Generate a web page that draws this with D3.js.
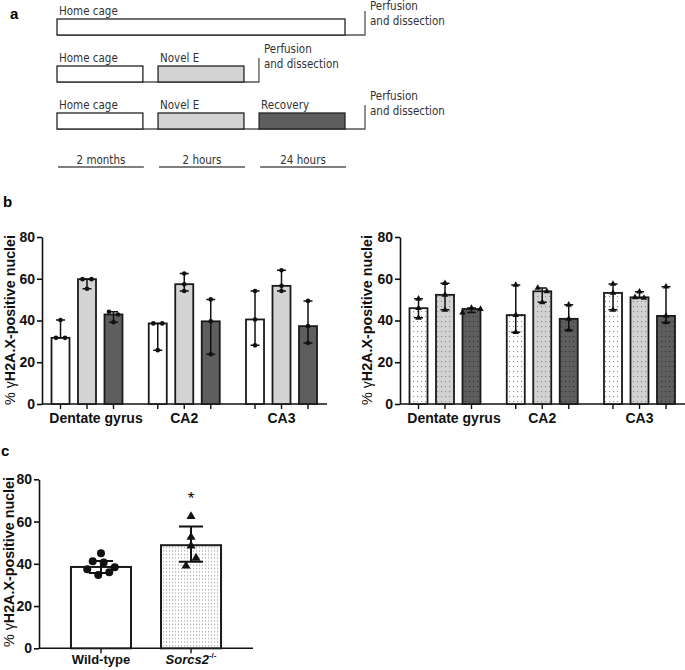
<!DOCTYPE html>
<html><head><meta charset="utf-8">
<script src="https://cdn.jsdelivr.net/npm/d3@7"></script>
<style>body{margin:0;background:#fff} svg{display:block}</style>
</head><body>
<svg id="chart" width="685" height="670"></svg>
<script>
// ---------------- DATA ----------------
const stageNames = ["Home cage", "Novel E", "Recovery"];
const stageDurations = ["2 months", "2 hours", "24 hours"];
const protocols = [["Home cage"], ["Home cage", "Novel E"], ["Home cage", "Novel E", "Recovery"]];
const endLabel = ["Perfusion", "and dissection"];

const regions = ["Dentate gyrus", "CA2", "CA3"];
const conditions = ["Home cage", "Novel E", "Recovery"];
const yTicks = [0, 20, 40, 60, 80];

// panel b, left (wild-type): medians and individual animals
const leftMedians = [[31.7, 59.8, 42.9], [38.6, 57.4, 39.6], [40.5, 56.6, 37.3]];
const leftPoints = [
  [[31.7, 40.2, 31.7], [59.8, 55.2, 59.8], [39.2, 44.2, 42.9]],
  [[38.6, 25.8, 38.6], [54.1, 62.5, 57.4], [50.1, 39.6, 23.8]],
  [[54.1, 40.5, 28.1], [54.1, 64.1, 56.6], [49.4, 37.3, 29.2]]
];
// panel b, right (Sorcs2-/-)
const rightMedians = [[45.9, 52.3, 45.5], [42.6, 54.0, 40.8], [53.2, 51.1, 42.2]];
const rightPoints = [
  [[50.4, 45.9, 41.3], [57.9, 52.3, 45.1], [43.8, 46.0, 45.5]],
  [[57.0, 42.6, 34.4], [55.6, 54.0, 48.7], [47.5, 40.8, 35.5]],
  [[57.5, 53.2, 45.1], [53.8, 51.1, 50.8], [39.1, 56.2, 42.2]]
];

// panel c
const cGroups = ["Wild-type", "Sorcs2"];
const cMeans = [38.5, 48.8];
const cErrLow = [35.7, 41.0];
const cErrHigh = [41.3, 57.6];
const wtPoints = [37.4, 41.2, 34.7, 40.6, 36.0, 45.0, 38.4];
const koPoints = [39.0, 52.6, 62.4, 48.5, 42.7];

// ---------------- DRAWING ----------------
const svg = d3.select("#chart");
const sans = "'Liberation Sans', Arial, sans-serif";
const schem = "'DejaVu Sans Condensed', 'DejaVu Sans', sans-serif";

const defs = svg.append("defs");
function dotPattern(id, bg, dot, w, h) {
  const p = defs.append("pattern").attr("id", id).attr("patternUnits", "userSpaceOnUse")
    .attr("width", w).attr("height", h);
  p.append("rect").attr("width", w).attr("height", h).attr("fill", bg);
  p.append("rect").attr("x", 1).attr("y", 1).attr("width", 1.1).attr("height", 1.1).attr("fill", dot);
}
dotPattern("dW", "#ffffff", "#8a8a8a", 4, 5);
dotPattern("dL", "#d2d2d2", "#8a8a8a", 4, 5);
dotPattern("dD", "#5e5e5e", "#353535", 4, 5);
dotPattern("dC", "#ffffff", "#9a9a9a", 3, 3.5);

const solidFills = ["#ffffff", "#d3d3d3", "#5e5e5e"];
const dotFills = ["url(#dW)", "url(#dL)", "url(#dD)"];

// panel labels
[["a", 10, 19], ["b", 3, 207], ["c", 1, 456]].forEach(([t, x, y]) =>
  svg.append("text").attr("x", x).attr("y", y).attr("font-family", sans)
    .attr("font-weight", "bold").attr("font-size", 15).text(t));

// ---------- panel a ----------
const ga = svg.append("g");
const sx = d3.scaleBand(stageNames, [57, 345]).paddingInner(0.15);
const rowY = d3.scalePoint(d3.range(protocols.length), [19, 113]);
const rectH = 16;
protocols.forEach((stages, ri) => {
  const top = rowY(ri), bot = top + rectH;
  const x0 = sx(stages[0]);
  const lastEnd = ri === 0 ? sx(stageNames[2]) + sx.bandwidth() : sx(stages[stages.length - 1]) + sx.bandwidth();
  const endX = lastEnd + (ri === 1 ? 15 : 20);
  ga.append("path").attr("d", `M${x0},${bot}H${endX}V${top - 8}`)
    .attr("fill", "none").attr("stroke", "#555").attr("stroke-width", 1.3);
  stages.forEach((s, si) => {
    const xs = sx(s);
    const w = ri === 0 ? lastEnd - xs : sx.bandwidth();
    ga.append("rect").attr("x", xs).attr("y", top).attr("width", w).attr("height", rectH)
      .attr("fill", solidFills[stageNames.indexOf(s)]).attr("stroke", "#222").attr("stroke-width", 1.3);
    ga.append("text").attr("x", xs + 2).attr("y", top - 4).attr("font-family", schem)
      .attr("font-size", 11.5).attr("fill", "#333").text(s);
  });
  const base = Math.max(top - 13, 10);
  endLabel.forEach((t, k) =>
    ga.append("text").attr("x", endX + 5).attr("y", base + k * 15).attr("font-family", schem)
      .attr("font-size", 11.5).attr("fill", "#333").text(t));
});
stageNames.forEach((s, i) => {
  const xs = sx(s) + 1;
  ga.append("line").attr("x1", xs).attr("x2", xs + sx.bandwidth()).attr("y1", 167).attr("y2", 167)
    .attr("stroke", "#555").attr("stroke-width", 1.4);
  ga.append("text").attr("x", xs + sx.bandwidth() / 2).attr("y", 164).attr("text-anchor", "middle")
    .attr("font-family", schem).attr("font-size", 11.5).attr("fill", "#333").text(stageDurations[i]);
});

// helpers
function spread(vals, y, thr, step) {
  // cluster points with close y values and spread them symmetrically
  const order = vals.map((v, i) => i).sort((a, b) => vals[a] - vals[b]);
  const clusters = [];
  order.forEach(i => {
    const last = clusters[clusters.length - 1];
    if (last && Math.abs(y(vals[i]) - y(vals[last[last.length - 1]])) < thr) last.push(i);
    else clusters.push([i]);
  });
  const off = new Array(vals.length).fill(0);
  clusters.forEach(cl => {
    cl.sort((a, b) => a - b);
    cl.forEach((i, j) => off[i] = (j - (cl.length - 1) / 2) * step);
  });
  return off;
}

function yTitle(x, yc) {
  const t = svg.append("text").attr("transform", `translate(${x},${yc}) rotate(-90)`)
    .attr("text-anchor", "middle").attr("font-family", sans).attr("font-size", 14.3).attr("fill", "#111");
  t.append("tspan").text("% γ");
  t.append("tspan").attr("font-weight", "bold").text("H2A.X-positive nuclei");
}

function styleAxis(sel) {
  sel.select(".domain").attr("stroke", "#111").attr("stroke-width", 1.6);
  sel.selectAll(".tick line").attr("stroke", "#111").attr("stroke-width", 1.6);
  sel.selectAll(".tick text").attr("font-family", sans).attr("font-weight", "bold")
    .attr("font-size", 14).attr("fill", "#111");
}

// ---------- panel b ----------
function panelB(ax, medians, points, fills, symType, titleX) {
  const g = svg.append("g");
  const y = d3.scaleLinear([0, 80], [404, 237]);
  const xg = d3.scaleBand(regions, [ax + 9.5, ax + 275]).paddingInner(0.27);
  const xc = d3.scaleBand(conditions, [0, xg.bandwidth()]).paddingInner(0.32);
  const items = [];
  regions.forEach((r, ri) => conditions.forEach((c, ci) =>
    items.push({ r, c, ci, med: medians[ri][ci], pts: points[ri][ci] })));
  const cx = d => xg(d.r) + xc(d.c) + xc.bandwidth() / 2;

  // x axis line + ticks
  g.append("line").attr("x1", ax).attr("x2", ax + 285).attr("y1", y(0)).attr("y2", y(0))
    .attr("stroke", "#111").attr("stroke-width", 1.6);
  g.selectAll(".xt").data(items).join("line").attr("x1", cx).attr("x2", cx)
    .attr("y1", y(0)).attr("y2", y(0) + 5).attr("stroke", "#111").attr("stroke-width", 1.4);

  // bars
  g.selectAll(".bar").data(items).join("rect")
    .attr("x", d => xg(d.r) + xc(d.c)).attr("width", xc.bandwidth())
    .attr("y", d => y(d.med)).attr("height", d => y(0) - y(d.med))
    .attr("fill", d => fills[d.ci]).attr("stroke", "#1a1a1a").attr("stroke-width", 1.8);

  // range whiskers
  items.forEach(d => {
    const [lo, hi] = d3.extent(d.pts);
    const x = cx(d);
    g.append("path").attr("d", `M${x},${y(lo)}V${y(hi)}M${x - 4.5},${y(lo)}H${x + 4.5}M${x - 4.5},${y(hi)}H${x + 4.5}`)
      .attr("stroke", "#111").attr("stroke-width", 1.5).attr("fill", "none");
    const off = spread(d.pts, y, 5, 9);
    d.pts.forEach((v, i) => {
      if (symType === "circle") {
        g.append("circle").attr("cx", x + off[i]).attr("cy", y(v)).attr("r", 2.3).attr("fill", "#111");
      } else {
        g.append("path").attr("transform", `translate(${x + off[i]},${y(v)})`)
          .attr("d", d3.symbol(d3.symbolTriangle, 18)()).attr("fill", "#111");
      }
    });
  });

  // y axis
  const yax = g.append("g").attr("transform", `translate(${ax},0)`)
    .call(d3.axisLeft(y).tickValues(yTicks).tickSize(5).tickSizeOuter(0).tickPadding(2));
  styleAxis(yax);

  // group labels
  g.selectAll(".gl").data(regions).join("text")
    .attr("x", (r, i) => xg(r) + xg.bandwidth() / 2 + (i === 0 ? 9 : 0)).attr("y", 423)
    .attr("text-anchor", "middle").attr("font-family", sans).attr("font-weight", "bold")
    .attr("font-size", 14).attr("fill", "#111").text(r => r);

  yTitle(titleX, 320);
}
panelB(42, leftMedians, leftPoints, solidFills, "circle", 15);
panelB(400, rightMedians, rightPoints, dotFills, "triangle", 372);

// ---------- panel c ----------
(function () {
  const g = svg.append("g");
  const ax = 39;
  const y = d3.scaleLinear([0, 80], [648.3, 479.3]);
  const x = d3.scaleBand(cGroups, [ax, 253]).paddingInner(1 / 3).paddingOuter(0.355);
  const cx = k => x(k) + x.bandwidth() / 2;
  g.append("line").attr("x1", ax).attr("x2", 253).attr("y1", y(0)).attr("y2", y(0))
    .attr("stroke", "#111").attr("stroke-width", 1.6);
  g.selectAll(".xt").data(cGroups).join("line").attr("x1", cx).attr("x2", cx)
    .attr("y1", y(0)).attr("y2", y(0) + 5).attr("stroke", "#111").attr("stroke-width", 1.4);
  const fills = ["#ffffff", "url(#dC)"];
  g.selectAll(".bar").data(cGroups).join("rect")
    .attr("x", k => x(k)).attr("width", x.bandwidth())
    .attr("y", (k, i) => y(cMeans[i])).attr("height", (k, i) => y(0) - y(cMeans[i]))
    .attr("fill", (k, i) => fills[i]).attr("stroke", "#1a1a1a").attr("stroke-width", 2);
  const allPts = [wtPoints, koPoints];
  cGroups.forEach((k, i) => {
    const xc = cx(k);
    const off = spread(allPts[i], y, 8, i === 0 ? 5.5 : 10);
    allPts[i].forEach((v, j) => {
      if (i === 0) g.append("circle").attr("cx", xc + off[j]).attr("cy", y(v)).attr("r", 4).attr("fill", "#111");
      else g.append("path").attr("transform", `translate(${xc + off[j]},${y(v)})`)
        .attr("d", d3.symbol(d3.symbolTriangle, 36)()).attr("fill", "#111");
    });
    g.append("path").attr("d", `M${xc},${y(cErrLow[i])}V${y(cErrHigh[i])}M${xc - 12},${y(cErrLow[i])}H${xc + 12}M${xc - 12},${y(cErrHigh[i])}H${xc + 12}`)
      .attr("stroke", "#111").attr("stroke-width", 2).attr("fill", "none");
  });
  // significance star
  g.append("text").attr("x", cx("Sorcs2")).attr("y", y(d3.max(koPoints)) - 12)
    .attr("text-anchor", "middle").attr("font-family", sans).attr("font-size", 17).text("*");

  const yax = g.append("g").attr("transform", `translate(${ax},0)`)
    .call(d3.axisLeft(y).tickValues(yTicks).tickSize(5).tickSizeOuter(0).tickPadding(2));
  styleAxis(yax);

  g.append("text").attr("x", cx("Wild-type")).attr("y", 664).attr("text-anchor", "middle")
    .attr("font-family", sans).attr("font-weight", "bold").attr("font-size", 13).attr("fill", "#111").text("Wild-type");
  const t = g.append("text").attr("x", cx("Sorcs2")).attr("y", 664).attr("text-anchor", "middle")
    .attr("font-family", sans).attr("font-weight", "bold").attr("font-size", 13).attr("fill", "#111");
  t.append("tspan").attr("font-style", "italic").text("Sorcs2");
  t.append("tspan").attr("font-size", 8).attr("dy", -6).text("-/-");

  yTitle(13.5, 562);
})();
</script>
</body></html>
